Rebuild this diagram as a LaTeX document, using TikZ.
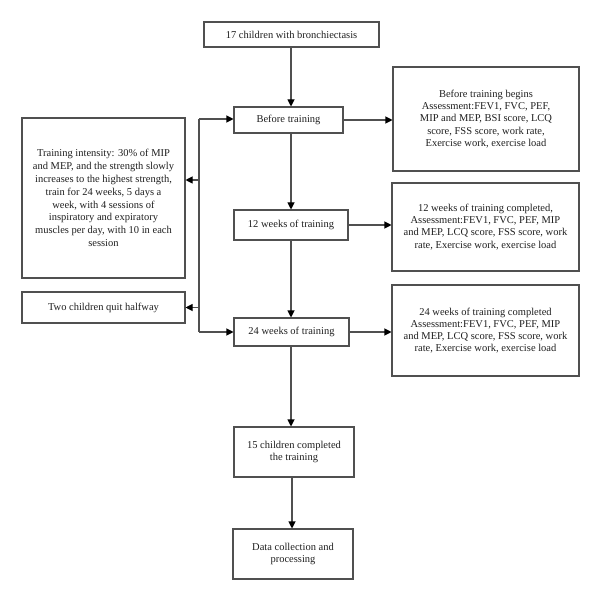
\documentclass[tikz,border=0pt]{standalone}
\usepackage{fontspec}
\setmainfont{Liberation Serif}
\usetikzlibrary{arrows.meta}
\definecolor{linec}{HTML}{505050}
\begin{document}
\begin{tikzpicture}[x=1pt,y=-1pt,
  box/.style={draw=linec,line width=1.05pt,align=center,inner sep=2pt,
    font=\fontsize{10.5}{12.2}\selectfont,text=black!88},
  conn/.style={draw=linec,line width=1.05pt},
  arr/.style={conn,-{Triangle[length=7pt,width=7pt,color=black]}}]
\useasboundingbox (0,0) rectangle (600,601);
\node[box,minimum width=175pt,minimum height=25pt] (top) at (291.5,34.5) {17 children with bronchiectasis};
\node[box,minimum width=109pt,minimum height=26pt] (before) at (288.5,120) {Before training};
\node[box,minimum width=186pt,minimum height=104pt] (r1) at (486,119) {Before training begins\\Assessment:FEV1, FVC, PEF,\\MIP and MEP, BSI score, LCQ\\score, FSS score, work rate,\\Exercise work, exercise load};
\node[box,minimum width=163pt,minimum height=160pt,font=\fontsize{10.5}{12.9}\selectfont] (left) at (103.5,198) {Training intensity: 30\% of MIP\\and MEP, and the strength slowly\\increases to the highest strength,\\train for 24 weeks, 5 days a\\week, with 4 sessions of\\inspiratory and expiratory\\muscles per day, with 10 in each\\session};
\node[box,minimum width=163pt,minimum height=31pt] (quit) at (103.5,307.5) {Two children quit halfway};
\node[box,minimum width=114pt,minimum height=30pt] (w12) at (291,225) {12 weeks of training};
\node[box,minimum width=187pt,minimum height=88pt] (r2) at (485.5,227) {12 weeks of training completed,\\Assessment:FEV1, FVC, PEF, MIP\\and MEP, LCQ score, FSS score, work\\rate, Exercise work, exercise load};
\node[box,minimum width=115pt,minimum height=28pt] (w24) at (291.5,332) {24 weeks of training};
\node[box,minimum width=187pt,minimum height=91pt] (r3) at (485.5,330.5) {24 weeks of training completed\\Assessment:FEV1, FVC, PEF, MIP\\and MEP, LCQ score, FSS score, work\\rate, Exercise work, exercise load};
\node[box,minimum width=120pt,minimum height=50pt] (c15) at (294,452) {15 children completed\\the training};
\node[box,minimum width=120pt,minimum height=50pt] (data) at (293,554) {Data collection and\\processing};
% main column
\coordinate (tb) at (291,47);
\draw[arr] (tb) -- (tb |- before.north);
\coordinate (b12) at (291,133);
\draw[arr] (b12) -- (b12 |- w12.north);
\coordinate (b24) at (291,240);
\draw[arr] (b24) -- (b24 |- w24.north);
\coordinate (b15) at (291,346);
\draw[arr] (b15) -- (b15 |- c15.north);
\coordinate (bd) at (292,477);
\draw[arr] (bd) -- (bd |- data.north);
% right arrows
\draw[arr] (before.east) -- (before.east -| r1.west);
\draw[arr] (w12.east) -- (w12.east -| r2.west);
\draw[arr] (w24.east) -- (w24.east -| r3.west);
% left spine
\coordinate (s1) at (199,119);
\coordinate (s2) at (199,332);
\coordinate (s3) at (199,180);
\coordinate (s4) at (199,307.5);
\draw[conn] (s1) -- (s2);
\draw[arr] (s1) -- (s1 -| before.west);
\draw[arr] (s2) -- (w24.west);
\draw[arr] (s3) -- (s3 -| left.east);
\draw[arr] (s4) -- (quit.east);
\end{tikzpicture}
\end{document}
